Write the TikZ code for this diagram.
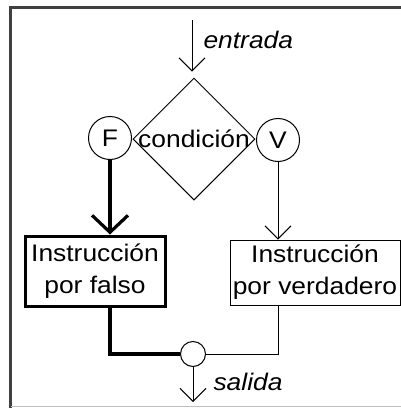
\documentclass[tikz,border=0pt]{standalone}
\usepackage{fontspec}
\setmainfont{Liberation Sans}[FakeStretch=1.1]
\usetikzlibrary{shapes.geometric,arrows.meta,calc}
\begin{document}
\begin{tikzpicture}[x=1pt,y=-1pt,
  every node/.style={font=\fontsize{24}{32}\selectfont},
  thin line/.style={line width=1pt},
  thick line/.style={line width=3.2pt},
  barb/.style={-{Straight Barb[length=13pt,width=26pt]}},
  bigbarb/.style={-{Straight Barb[length=17pt,width=36pt]}},
  diam/.style={draw,shape=diamond,inner sep=0pt,minimum width=122pt,minimum height=122pt,thin line},
  tag/.style={draw,circle,inner sep=0pt,minimum size=43pt,thin line},
  joinpt/.style={draw,circle,inner sep=0pt,minimum size=25pt,thin line,fill=white},
  stepbox/.style={draw,rectangle,inner sep=0pt,align=center},
  lbl/.style={anchor=west,font=\fontsize{24}{28}\selectfont\itshape}
]
\useasboundingbox (0,0) rectangle (401,408);
% frame
\draw[line width=2.5pt,black!75] (10.5,408) -- (10.5,7.5) -- (401,7.5);
\draw[line width=1.2pt,black!25] (10.5,406.8) -- (401,406.8);

\coordinate (in) at (192,20);
\node[diam] (cond) at (194,139) {};
\node (condtext) at (cond.center) {condición};
\node[tag] (F) at (110,138) {F};
\node[tag] (V) at (278,140) {V};
\node[stepbox,line width=3pt,minimum width=140pt,minimum height=70pt] (lbox) at (95,271) {Instrucción\\por falso};
\node[stepbox,thin line,minimum width=170pt,minimum height=65pt] (rbox) at (315,272.5) {Instrucción\\por verdadero};
\node[joinpt] (jn) at (193,354) {};
\coordinate (out) at (193,402);

\node[lbl] (lin) at (200,40) {entrada};
\node[lbl] (lout) at (210,382) {salida};

% connectors
\draw[thin line,barb,shorten >=6pt] (in) -- (in |- cond.north);
\draw[thick line,bigbarb] (F.south) -- (F.south |- lbox.north);
\draw[thin line,barb] (V.south) -- (V.south |- rbox.north);
\draw[thick line] (F.south |- lbox.south) -- (F.south |- jn.center) -- (jn.west);
\draw[thin line] (V.south |- rbox.south) -- (V.south |- jn.center) -- (jn.east);
\draw[thin line,barb] (jn.south) -- (out);
\end{tikzpicture}
\end{document}
